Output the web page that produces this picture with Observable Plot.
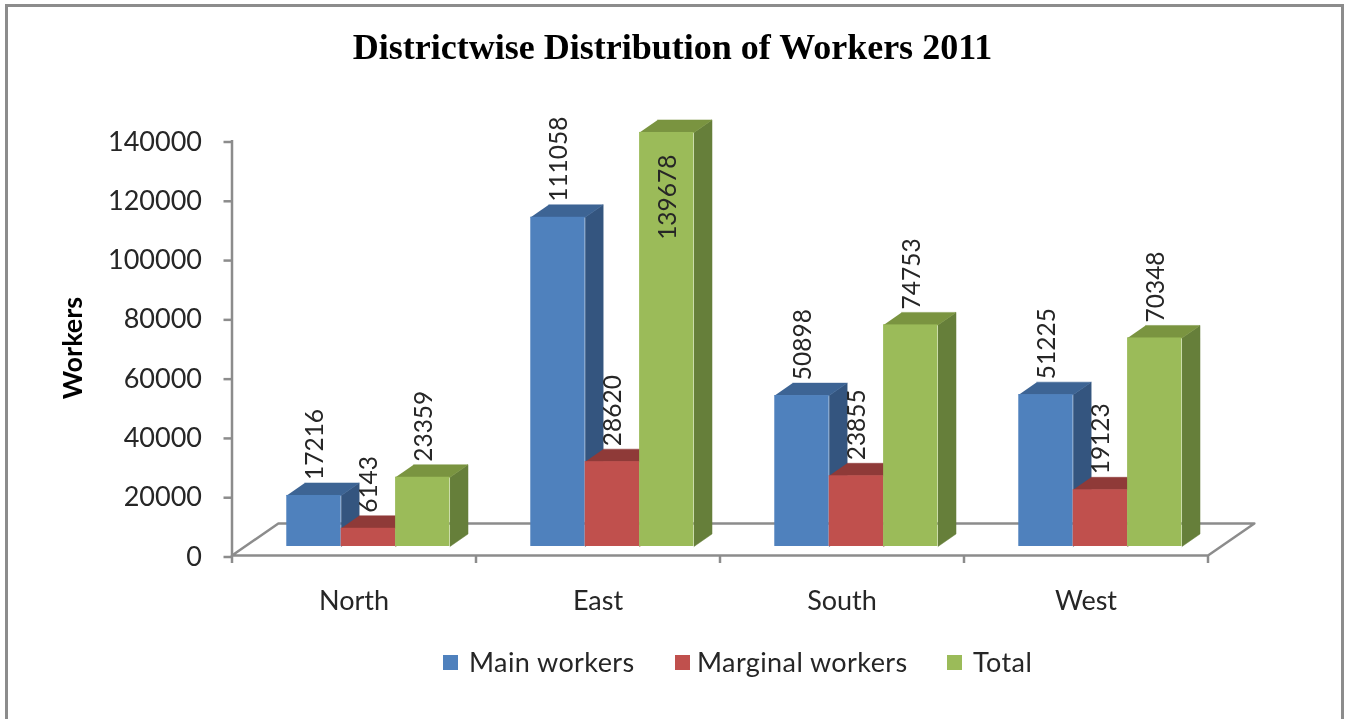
<!DOCTYPE html>
<html>
<head>
<meta charset="utf-8">
<script src="https://cdn.jsdelivr.net/npm/d3@7"></script>
<script src="https://cdn.jsdelivr.net/npm/@observablehq/plot@0.6"></script>
<style>
html,body{margin:0;padding:0;background:#fff;width:1348px;height:719px;overflow:hidden}
#frame{position:absolute;left:5px;top:4px;width:1333px;height:740px;border:3px solid #8c8c8c;background:#fff}
#title{position:absolute;left:0;top:29px;width:1345px;text-align:center;font:bold 36px "Liberation Serif",serif;color:#000;line-height:36px;filter:blur(.4px)}
#chart{position:absolute;left:0;top:80px;filter:blur(.4px)}
#chart svg{display:block}
#legend{position:absolute;left:0;top:645px;height:34px;width:1348px;font:27px Lato,sans-serif;letter-spacing:.4px;color:#262626;line-height:34px;filter:blur(.4px)}
#legend span{position:absolute;white-space:nowrap}
#legend i{position:absolute;top:10px;width:15px;height:15px}
</style>
</head>
<body>
<div id="frame"></div>
<div id="title">Districtwise Distribution of Workers 2011</div>
<div id="chart"></div>
<div id="legend"></div>
<script>
const districts = ["North", "East", "South", "West"];
const seriesNames = ["Main workers", "Marginal workers", "Total"];
const mainWorkers = [17216, 111058, 50898, 51225];
const marginalWorkers = [6143, 28620, 23855, 19123];
const totalWorkers = [23359, 139678, 74753, 70348];
const seriesValues = [mainWorkers, marginalWorkers, totalWorkers];
const frontColors = ["#4f81bd", "#c0504d", "#9bbb59"];
const sideColors = ["#34557f", "#8a3b39", "#667f3a"];
const topColors = ["#3d6494", "#8f3a38", "#7a9440"];
const yTicks = [0, 20000, 40000, 60000, 80000, 100000, 120000, 140000];
const legendLeft = [443, 675, 947];
const legendTextLeft = [469, 697, 973];

// Projection constants of the pseudo-3D chart, in scale units
const barStart = 0.2245, barWidth = 0.223;
const floorDx = 0.19, floorDy = 10800;
const insetDy = 3040;
const depthDx = 0.0738, depthDy = 4220;
const labelGap = 1000;
const cappedAt = 130000, insideDrop = 33200;
const axisGray = "#8c8c8c";
const textColor = "#262626";
const fontFamily = "Lato, sans-serif";

const bars = [];
districts.forEach((d, i) => seriesValues.forEach((vals, s) => {
  bars.push({district: d, s, value: vals[i], x0: i + barStart + s * barWidth, x1: i + barStart + (s + 1) * barWidth});
}));

const poly = (pts, fill) => Plot.line(pts, {x: "x", y: "y", fill, stroke: fill, strokeWidth: 0.5, curve: "linear"});

const barMarks = bars.flatMap(b => {
  const y0 = insetDy, y1 = b.value + insetDy;
  return [
    poly([{x: b.x1, y: y0}, {x: b.x1 + depthDx, y: y0 + depthDy}, {x: b.x1 + depthDx, y: y1 + depthDy}, {x: b.x1, y: y1}], sideColors[b.s]),
    poly([{x: b.x0, y: y1}, {x: b.x1, y: y1}, {x: b.x1 + depthDx, y: y1 + depthDy}, {x: b.x0 + depthDx, y: y1 + depthDy}], topColors[b.s]),
    Plot.rectY([b], {x1: "x0", x2: "x1", y1: () => y0, y2: () => y1, fill: frontColors[b.s]})
  ];
});

const floor = [{x: 0, y: 0}, {x: floorDx, y: floorDy}, {x: 4 + floorDx, y: floorDy}, {x: 4, y: 0}, {x: 0, y: 0}];

const plot = Plot.plot({
  width: 1348, height: 550,
  marginLeft: 231.5, marginRight: 140.5, marginTop: 60, marginBottom: 75,
  style: {background: "transparent", overflow: "visible"},
  x: {domain: [0, 4], axis: null},
  y: {domain: [0, 140000], axis: null},
  marks: [
    Plot.line(floor, {x: "x", y: "y", stroke: axisGray, strokeWidth: 2.5, curve: "linear"}),
    Plot.ruleX([0], {y1: 0, y2: 140000, stroke: axisGray, strokeWidth: 2.5}),
    Plot.axisY({ticks: yTicks, anchor: "left", tickSize: 8, tickPadding: 22, stroke: axisGray, strokeWidth: 2.5, fill: textColor,
      fontSize: 27, fontFamily, dy: 1.5, tickFormat: d => String(d), label: null}),
    Plot.axisX({ticks: [0, 1, 2, 3, 4], anchor: "bottom", tickSize: 8, stroke: axisGray, strokeWidth: 2.5, tickFormat: () => "", label: null}),
    Plot.axisX({ticks: [0.5, 1.5, 2.5, 3.5], anchor: "bottom", tickSize: 0, tickPadding: 35, fill: textColor, fontSize: 27, fontFamily,
      tickFormat: d => districts[Math.floor(d)], label: null}),
    Plot.text(["Workers"], {frameAnchor: "left", textAnchor: "middle", dx: -159, y: () => 70000, rotate: -90, fontWeight: "bold", fontSize: 27, fontFamily, fill: "#000"}),
    ...barMarks,
    Plot.text(bars, {
      x: d => (d.x0 + d.x1) / 2,
      y: d => d.value > cappedAt ? d.value - insideDrop : d.value + insetDy + depthDy + labelGap,
      text: d => String(d.value),
      rotate: -90, textAnchor: "start", lineAnchor: "middle", dx: 1,
      fontSize: 24.5, fontFamily, fill: textColor
    })
  ]
});
document.getElementById("chart").appendChild(plot);

const legend = document.getElementById("legend");
seriesNames.forEach((name, i) => {
  const sw = document.createElement("i");
  sw.style.left = legendLeft[i] + "px";
  sw.style.background = frontColors[i];
  legend.appendChild(sw);
  const t = document.createElement("span");
  t.style.left = legendTextLeft[i] + "px";
  t.textContent = name;
  legend.appendChild(t);
});
</script>
</body>
</html>
